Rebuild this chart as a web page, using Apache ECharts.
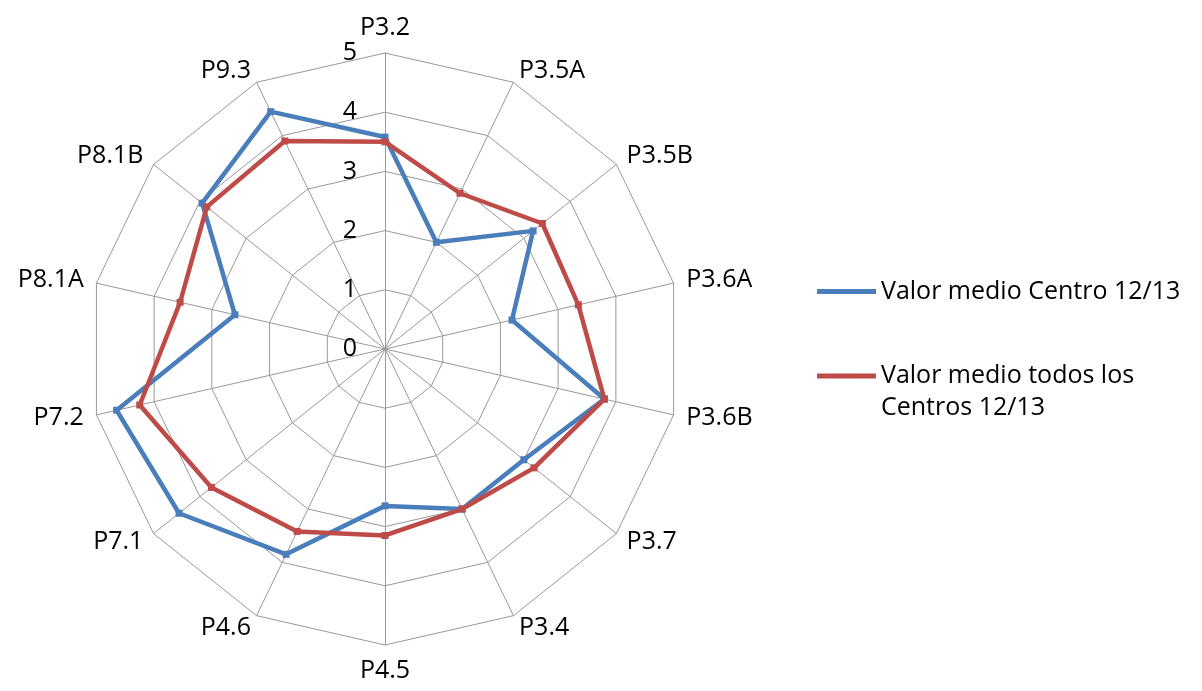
<!DOCTYPE html>
<html>
<head>
<meta charset="utf-8">
<script src="https://cdn.jsdelivr.net/npm/echarts@6/dist/echarts.min.js"></script>
<style>
html,body{margin:0;padding:0;background:#fff;}
#chart{width:1202px;height:691px;}
</style>
</head>
<body>
<div id="chart"></div>
<script>
// Categories in clockwise order starting at the top
const categories = ['P3.2','P3.5A','P3.5B','P3.6A','P3.6B','P3.7','P3.4','P4.5','P4.6','P7.1','P7.2','P8.1A','P8.1B','P9.3'];
const seriesNames = ['Valor medio Centro 12/13', 'Valor medio todos los Centros 12/13'];
const centroValues = [3.58, 2.0, 3.2, 2.2, 3.8, 3.0, 3.0, 2.65, 3.85, 4.45, 4.65, 2.6, 3.95, 4.45];
const todosValues  = [3.5, 2.92, 3.4, 3.35, 3.8, 3.22, 3.0, 3.15, 3.42, 3.75, 4.25, 3.55, 3.85, 3.9];
const scaleMin = 0, scaleMax = 5;

// ECharts radar places indicators counter-clockwise; reorder to draw clockwise
const order = [0].concat(categories.map((c, i) => i).slice(1).reverse());
const pick = arr => order.map(i => arr[i]);

const FONT = 'Open Sans';
const chart = echarts.init(document.getElementById('chart'));
const indicator = pick(categories).map((name, k) => {
  const ind = { name: name, min: scaleMin, max: scaleMax };
  if (k === 0) ind.axisLabel = { show: true };
  return ind;
});

chart.setOption({
  backgroundColor: '#ffffff',
  animation: false,
  legend: [
    {
      data: [seriesNames[0]],
      left: 817, top: 279, padding: 0,
      icon: 'rect', itemWidth: 59, itemHeight: 5,
      textStyle: { fontFamily: FONT, fontSize: 25, color: '#000' }
    },
    {
      data: [seriesNames[1]],
      left: 817, top: 328, padding: 0,
      icon: 'rect', itemWidth: 59, itemHeight: 5,
      formatter: n => '\n' + n.replace('todos los ', 'todos los\n'),
      textStyle: { fontFamily: FONT, fontSize: 25, color: '#000', lineHeight: 32 }
    }
  ],
  radar: {
    center: [385, 349],
    radius: 296,
    startAngle: 90,
    shape: 'polygon',
    splitNumber: 5,
    indicator: indicator,
    nameGap: 13,
    axisName: { color: '#000', fontFamily: FONT, fontSize: 25 },
    axisLine: { lineStyle: { color: '#999999', width: 1 } },
    splitLine: { lineStyle: { color: '#999999', width: 1 } },
    splitArea: { show: false },
    axisTick: { show: false },
    axisLabel: { show: false, color: '#000', fontFamily: FONT, fontSize: 25, margin: 28, showMaxLabel: true, showMinLabel: true }
  },
  series: [{
    type: 'radar',
    symbol: 'rect',
    symbolSize: 7,
    data: [
      { name: seriesNames[0], value: pick(centroValues),
        lineStyle: { color: '#4a7ebb', width: 4.5 }, itemStyle: { color: '#4a7ebb' } },
      { name: seriesNames[1], value: pick(todosValues),
        lineStyle: { color: '#be4b48', width: 4.5 }, itemStyle: { color: '#be4b48' } }
    ]
  }]
});
</script>
</body>
</html>
